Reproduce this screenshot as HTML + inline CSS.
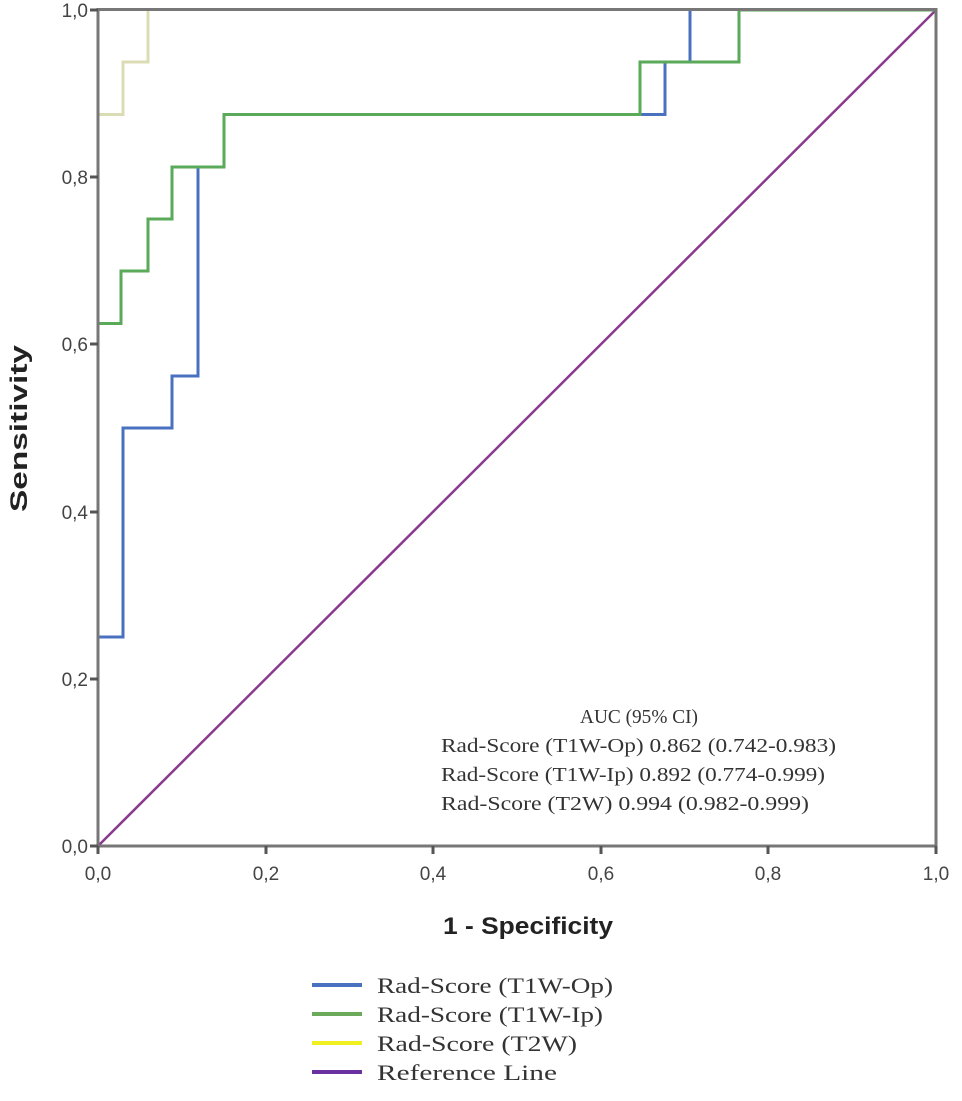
<!DOCTYPE html>
<html><head><meta charset="utf-8"><style>body{margin:0;background:#fff}svg{display:block}</style></head>
<body>
<svg width="962" height="1101" viewBox="0 0 962 1101" xmlns="http://www.w3.org/2000/svg">
<rect width="962" height="1101" fill="#fff"/>
<line x1="98" y1="846" x2="936" y2="10" stroke="#8a3a8e" stroke-width="2.5"/>
<polyline fill="none" stroke="#4a70c0" stroke-width="3" points="98,846 98,637 123,637 123,428 172,428 172,376 198,376 198,167 224,167 224,114.5 665,114.5 665,62 690,62 690,10"/>
<polyline fill="none" stroke="#5aaa5a" stroke-width="3" points="98,846 98,323.5 121,323.5 121,271 148,271 148,219 172,219 172,167 224,167 224,114.5 640,114.5 640,62 739,62 739,10 936,10"/>
<polyline fill="none" stroke="#dcdcb4" stroke-width="3" points="98,114.5 123,114.5 123,62 148,62 148,10"/>
<rect x="98" y="9.5" width="838" height="836.5" fill="none" stroke="#777" stroke-width="3"/>
<g stroke="#555" stroke-width="3">
<line x1="90" y1="10" x2="98" y2="10"/><line x1="90" y1="177" x2="98" y2="177"/><line x1="90" y1="344" x2="98" y2="344"/><line x1="90" y1="512" x2="98" y2="512"/><line x1="90" y1="679" x2="98" y2="679"/><line x1="90" y1="846" x2="98" y2="846"/>
<line x1="98" y1="846" x2="98" y2="854"/><line x1="266" y1="846" x2="266" y2="854"/><line x1="433" y1="846" x2="433" y2="854"/><line x1="601" y1="846" x2="601" y2="854"/><line x1="768" y1="846" x2="768" y2="854"/><line x1="936" y1="846" x2="936" y2="854"/>
</g>
<g font-family="Liberation Sans, sans-serif" font-size="19" fill="#444" text-anchor="end">
<text x="88" y="17">1,0</text><text x="88" y="184">0,8</text><text x="88" y="351">0,6</text><text x="88" y="519">0,4</text><text x="88" y="686">0,2</text><text x="88" y="853">0,0</text>
</g>
<g font-family="Liberation Sans, sans-serif" font-size="19" fill="#444" text-anchor="middle">
<text x="98" y="880">0,0</text><text x="266" y="880">0,2</text><text x="433" y="880">0,4</text><text x="601" y="880">0,6</text><text x="768" y="880">0,8</text><text x="936" y="880">1,0</text>
</g>
<text x="443" y="934" textLength="170" lengthAdjust="spacingAndGlyphs" font-family="Liberation Sans, sans-serif" font-weight="bold" font-size="24" fill="#222">1 - Specificity</text>
<text transform="translate(27,512) rotate(-90)" textLength="167" lengthAdjust="spacingAndGlyphs" font-family="Liberation Sans, sans-serif" font-weight="bold" font-size="24" fill="#222">Sensitivity</text>
<g font-family="Liberation Serif, serif" font-size="20" fill="#333" lengthAdjust="spacingAndGlyphs">
<text x="580" y="723" textLength="118" lengthAdjust="spacingAndGlyphs">AUC (95% CI)</text>
<text x="441" y="752" textLength="395" lengthAdjust="spacingAndGlyphs">Rad-Score (T1W-Op) 0.862 (0.742-0.983)</text>
<text x="441" y="781" textLength="384" lengthAdjust="spacingAndGlyphs">Rad-Score (T1W-Ip) 0.892 (0.774-0.999)</text>
<text x="441" y="810" textLength="368" lengthAdjust="spacingAndGlyphs">Rad-Score (T2W) 0.994 (0.982-0.999)</text>
</g>
<g stroke-width="4">
<line x1="312" y1="985" x2="362" y2="985" stroke="#4a70c0"/>
<line x1="312" y1="1014" x2="362" y2="1014" stroke="#6aaa5a"/>
<line x1="312" y1="1043" x2="362" y2="1043" stroke="#f0f020"/>
<line x1="312" y1="1072" x2="362" y2="1072" stroke="#6a30a0"/>
</g>
<g font-family="Liberation Serif, serif" font-size="22" fill="#333">
<text x="377" y="993" textLength="236" lengthAdjust="spacingAndGlyphs">Rad-Score (T1W-Op)</text>
<text x="377" y="1022" textLength="226" lengthAdjust="spacingAndGlyphs">Rad-Score (T1W-Ip)</text>
<text x="377" y="1051" textLength="200" lengthAdjust="spacingAndGlyphs">Rad-Score (T2W)</text>
<text x="377" y="1080" textLength="180" lengthAdjust="spacingAndGlyphs">Reference Line</text>
</g>
</svg>
</body></html>
